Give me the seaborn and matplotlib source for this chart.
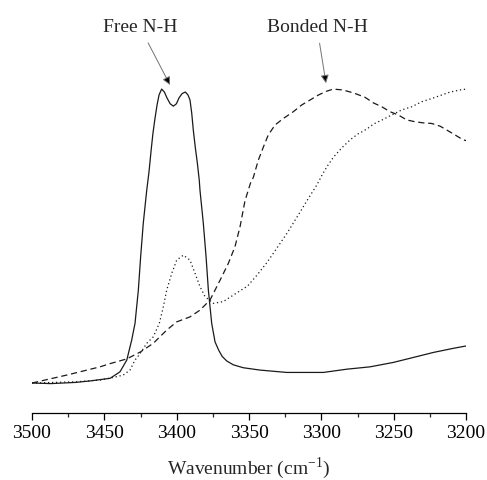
import seaborn as sns
import matplotlib.pyplot as plt

# wavenumber (cm-1) / normalised absorbance
free_wn = [3500, 3487, 3470, 3460, 3446, 3439.2, 3434.5, 3431.1, 3428.8, 3426.5, 3424.9,
           3423.1, 3420.7, 3419.1, 3417.7, 3416.4, 3415.0, 3413.6, 3412.2, 3410.4, 3408.5,
           3406.7, 3404.5, 3402.3, 3400.2, 3398.4, 3396.2, 3394.0, 3392.2, 3390.8, 3389.6,
           3388.5, 3387.1, 3385.7, 3384.4, 3383.9, 3381.6, 3379.7, 3378.1, 3375.8, 3373.5,
           3371, 3368.5, 3365.4, 3360.9, 3354, 3342.4, 3324, 3298.6, 3282.5, 3266.4,
           3250.3, 3236.4, 3222.6, 3208.8, 3200]
free_abs = [0.0, -0.002, 0.002, 0.007, 0.016, 0.038, 0.078, 0.146, 0.203, 0.316, 0.43,
            0.543, 0.656, 0.72, 0.79, 0.85, 0.90, 0.945, 0.98, 1.0, 0.99,
            0.97, 0.95, 0.942, 0.95, 0.97, 0.985, 0.99, 0.98, 0.963, 0.918,
            0.86, 0.80, 0.748, 0.69, 0.656, 0.544, 0.43, 0.316, 0.203, 0.14,
            0.112, 0.09, 0.075, 0.062, 0.052, 0.044, 0.036, 0.036, 0.047, 0.055,
            0.07, 0.087, 0.104, 0.118, 0.126]

bonded_wn = [3500, 3476, 3453, 3446, 3434.5, 3425.3, 3416.2, 3406.9, 3400, 3390.8, 3383.9,
             3377, 3370, 3364.3, 3359.7, 3356.2, 3352.8, 3349, 3347, 3343.6, 3340, 3336.7,
             3332, 3326.3, 3319.4, 3313.6, 3307.8, 3302, 3296.3, 3291.7, 3285, 3280,
             3275.6, 3269.8, 3264, 3258.3, 3252.5, 3246.8, 3241, 3235.3, 3229.5, 3223.7,
             3218, 3213.4, 3207.6, 3201.9, 3200]
bonded_abs = [0.0, 0.027, 0.055, 0.066, 0.082, 0.105, 0.135, 0.18, 0.208, 0.225, 0.248,
              0.282, 0.35, 0.407, 0.464, 0.532, 0.62, 0.68, 0.70, 0.758, 0.804, 0.844,
              0.878, 0.90, 0.923, 0.946, 0.963, 0.98, 0.993, 1.0, 0.997, 0.99,
              0.983, 0.972, 0.953, 0.94, 0.923, 0.912, 0.895, 0.889, 0.885, 0.883,
              0.874, 0.861, 0.844, 0.827, 0.825]

mixed_wn = [3500, 3470, 3453, 3443.8, 3436.9, 3432.3, 3428.8, 3425.3, 3420.7, 3416.2, 3412,
            3409.2, 3406.9, 3403.4, 3400, 3395.4, 3390.8, 3387.3, 3383.9, 3380.4, 3374.7,
            3367.8, 3357.4, 3351, 3344.5, 3337.6, 3330.6, 3323.7, 3316.8, 3310, 3303,
            3299.8, 3296.3, 3291.7, 3285.9, 3280, 3274.5, 3271, 3267.5, 3264, 3260.6,
            3257.2, 3251.4, 3244.5, 3237.5, 3230.6, 3223.7, 3216.8, 3211, 3204.2, 3200]
mixed_abs = [0.0, 0.004, 0.01, 0.019, 0.027, 0.044, 0.078, 0.10, 0.135, 0.157, 0.203,
             0.26, 0.316, 0.373, 0.418, 0.435, 0.418, 0.373, 0.328, 0.294, 0.271,
             0.277, 0.31, 0.33, 0.367, 0.41, 0.46, 0.51, 0.565, 0.62, 0.675,
             0.705, 0.735, 0.768, 0.80, 0.828, 0.848, 0.857, 0.868, 0.881, 0.889,
             0.897, 0.912, 0.929, 0.94, 0.957, 0.968, 0.98, 0.99, 0.997, 1.0]

sns.set_style("white")
plt.rcParams['font.family'] = ['Liberation Serif', 'DejaVu Serif']
plt.rcParams['mathtext.fontset'] = 'custom'
plt.rcParams['mathtext.rm'] = 'Liberation Serif'

fig = plt.figure(figsize=(4.87, 4.80), dpi=100)
ax = fig.add_axes([0.0657, 0.1396, 0.8913, 0.7354])

line_color = '#1a1a1a'
sns.lineplot(x=free_wn, y=free_abs, ax=ax, color=line_color, lw=0.9, sort=False)
sns.lineplot(x=bonded_wn, y=bonded_abs, ax=ax, color=line_color, lw=0.9,
             linestyle=(0, (5, 3)), sort=False)
sns.lineplot(x=mixed_wn, y=mixed_abs, ax=ax, color=line_color, lw=0.9,
             linestyle=(0, (1, 2.2)), sort=False)

ax.set_xlim(3500, 3200)
ax.set_ylim(-0.102, 1.099)
ax.set_xticks(range(3500, 3199, -50))
ax.set_xticks(range(3475, 3200, -50), minor=True)
ax.set_yticks([])
for side in ['left', 'right', 'top']:
    ax.spines[side].set_visible(False)
ax.spines['bottom'].set_color('black')
ax.spines['bottom'].set_linewidth(0.9)
ax.tick_params(axis='x', which='major', direction='out', length=5, width=0.9,
               labelsize=14, pad=4, bottom=True, colors='black')
ax.tick_params(axis='x', which='minor', direction='out', length=3, width=0.9, bottom=True)
ax.set_xlabel('Wavenumber (cm$^{\\mathregular{-1}}$)', fontsize=14, labelpad=9)
ax.set_ylabel('')

arrow = dict(arrowstyle='-|>', ec='0.45', fc='black', lw=0.7,
             mutation_scale=12, shrinkA=3, shrinkB=0)
ax.annotate('Free N-H', xy=(3404.6, 1.014), xytext=(3425.3, 1.21),
            ha='center', va='center', fontsize=14, arrowprops=arrow,
            annotation_clip=False)
ax.annotate('Bonded N-H', xy=(3296.8, 1.02), xytext=(3303, 1.21),
            ha='center', va='center', fontsize=14, arrowprops=arrow,
            annotation_clip=False)

fig.savefig('out.png', dpi=100)
